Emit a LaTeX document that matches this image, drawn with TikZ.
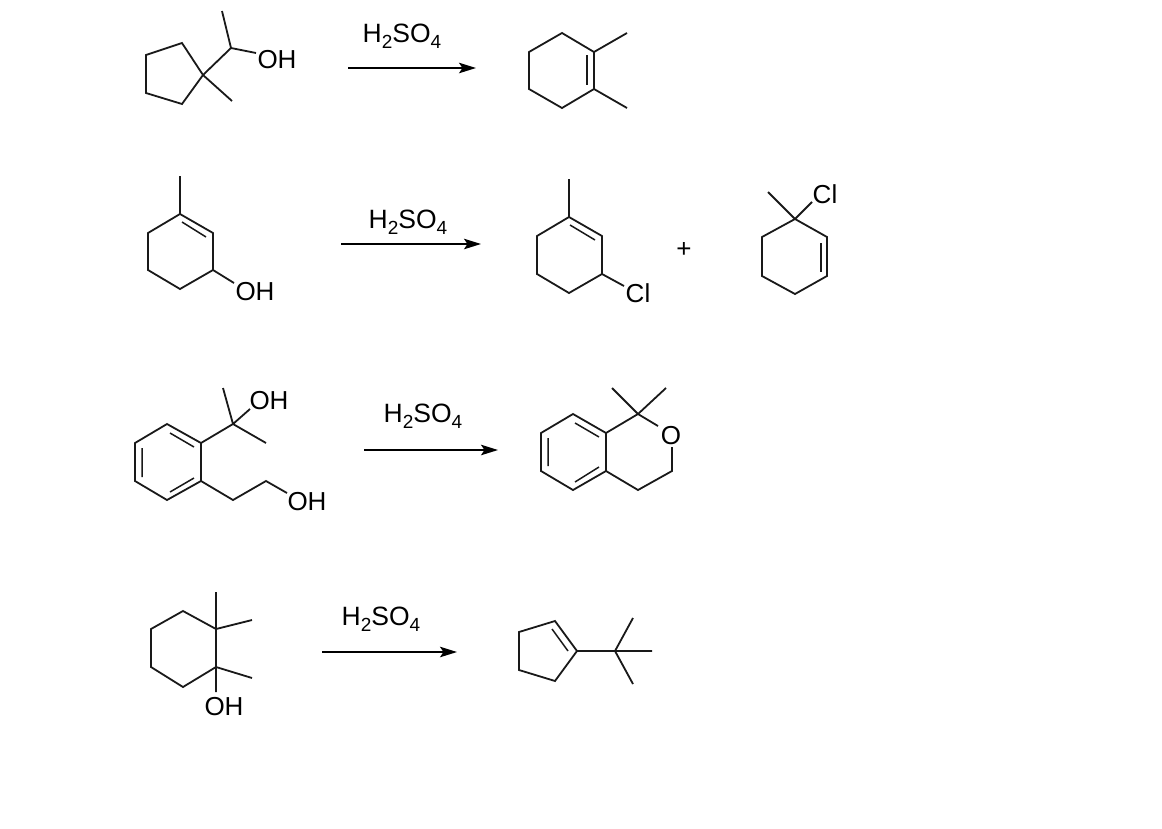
\documentclass[tikz,border=0pt]{standalone}
\usepackage{fontspec}
\setmainfont{Liberation Sans}
\usetikzlibrary{arrows.meta}
\newcommand{\lowsub}[1]{\raisebox{-0.22em}{\fontsize{19}{19}\selectfont #1}}
\newcommand{\hsofour}{H\lowsub{2}SO\lowsub{4}}
\tikzset{
  bond/.style={line width=1.8pt,line join=miter,line cap=butt,black!90},
  thinbond/.style={line width=1.5pt,black!90},
  atom/.style={inner sep=0pt,font=\fontsize{26}{26}\selectfont},
  reagent/.style={inner sep=0pt,font=\fontsize{26.5}{26.5}\selectfont},
  rxn/.style={line width=1.8pt,-{Stealth[length=17pt,width=10.5pt,inset=3.5pt]}},
}
\begin{document}
\begin{tikzpicture}[x=1pt,y=-1pt]
\useasboundingbox (0,0) rectangle (1162,828);
% --- row 1 reactant
\foreach \n/\p in {a1/{203,75},a2/{182,43},a3/{146,55},a4/{146,93},a5/{182,104},a6/{231,48},a7/{222,11},a8/{256,53},a9/{232,101}}{\coordinate (\n) at (\p);}
\node[atom] (aOH) at (277,59.5) {OH};
\draw[bond] (a1)--(a2)--(a3)--(a4)--(a5)--cycle;
\draw[bond] (a1)--(a6)--(a7) (a6)--(a8) (a1)--(a9);
% arrow 1
\coordinate (r1s) at (348,68); \coordinate (r1e) at (476,68);
\draw[rxn] (r1s)--(r1e);
\node[reagent] (r1t) at (402,36) {\hsofour};
% row 1 product
\foreach \n/\p in {b1/{562,33},b2/{594,52},b3/{594,89},b4/{562,108},b5/{529,89},b6/{529,52},b7/{627,33},b8/{627,108},b9/{587,55},b10/{587,85}}{\coordinate (\n) at (\p);}
\draw[bond] (b1)--(b2)--(b3)--(b4)--(b5)--(b6)--cycle;
\draw[bond] (b2)--(b7) (b3)--(b8);
\draw[thinbond] (b9)--(b10);
% --- row 2 reactant
\foreach \n/\p in {c1/{180,214},c2/{213,233},c3/{213,270},c4/{180,289},c5/{148,270},c6/{148,233},c7/{180,176},c8/{182,222},c9/{206,237},c10/{234,283}}{\coordinate (\n) at (\p);}
\node[atom] (cOH) at (255,291.5) {OH};
\draw[bond] (c1)--(c2)--(c3)--(c4)--(c5)--(c6)--cycle;
\draw[bond] (c1)--(c7) (c3)--(c10);
\draw[thinbond] (c8)--(c9);
% arrow 2
\coordinate (r2s) at (341,244); \coordinate (r2e) at (481,244);
\draw[rxn] (r2s)--(r2e);
\node[reagent] (r2t) at (408,222) {\hsofour};
% row 2 product A
\foreach \n/\p in {d1/{569,217},d2/{602,236},d3/{602,274},d4/{569,293},d5/{537,274},d6/{537,236},d7/{569,179},d8/{570,225},d9/{595,240},d10/{624,286}}{\coordinate (\n) at (\p);}
\node[atom] (dCl) at (638,293.5) {Cl};
\draw[bond] (d1)--(d2)--(d3)--(d4)--(d5)--(d6)--cycle;
\draw[bond] (d1)--(d7) (d3)--(d10);
\draw[thinbond] (d8)--(d9);
\node[atom] (plus) at (684,250) {\fontsize{26}{26}\selectfont +};
% row 2 product B
\foreach \n/\p in {e1/{795,219},e2/{827,237},e3/{827,276},e4/{795,294},e5/{762,276},e6/{762,237},e7/{768,192},e8/{812,202},e9/{821,243},e10/{821,272}}{\coordinate (\n) at (\p);}
\node[atom] (eCl) at (825,194.5) {Cl};
\draw[bond] (e1)--(e2)--(e3)--(e4)--(e5)--(e6)--cycle;
\draw[bond] (e1)--(e7) (e1)--(e8);
\draw[thinbond] (e9)--(e10);
% --- row 3 reactant
\foreach \n/\p in {f1/{167,424},f2/{201,443},f3/{201,481},f4/{167,500},f5/{135,481},f6/{135,443},f7/{170,433},f8/{194,447},f9/{194,478},f10/{170,492},f11/{142,448},f12/{142,477},f13/{233,424},f14/{223,388},f15/{266,443},f16/{250,409},f17/{233,500},f18/{266,481},f19/{287,493}}{\coordinate (\n) at (\p);}
\node[atom] (fOHa) at (269,400.5) {OH};
\node[atom] (fOHb) at (307,501.5) {OH};
\draw[bond] (f1)--(f2)--(f3)--(f4)--(f5)--(f6)--cycle;
\draw[thinbond] (f7)--(f8) (f9)--(f10) (f11)--(f12);
\draw[bond] (f2)--(f13)--(f14) (f13)--(f15) (f13)--(f16);
\draw[bond] (f3)--(f17)--(f18)--(f19);
% arrow 3
\coordinate (r3s) at (364,450); \coordinate (r3e) at (498,450);
\draw[rxn] (r3s)--(r3e);
\node[reagent] (r3t) at (423,416) {\hsofour};
% row 3 product
\foreach \n/\p in {g1/{573,414},g2/{606,433},g3/{606,471},g4/{573,490},g5/{541,471},g6/{541,433},g7/{575,423},g8/{599,437},g9/{599,467},g10/{575,482},g11/{548,438},g12/{548,466},g13/{638,414},g14/{612,388},g15/{666,388},g16/{658,426},g17/{672,447},g18/{672,471},g19/{638,490}}{\coordinate (\n) at (\p);}
\node[atom] (gO) at (671,436) {O};
\draw[bond] (g1)--(g2)--(g3)--(g4)--(g5)--(g6)--cycle;
\draw[thinbond] (g7)--(g8) (g9)--(g10) (g11)--(g12);
\draw[bond] (g2)--(g13)--(g14) (g13)--(g15) (g13)--(g16);
\draw[bond] (g17)--(g18)--(g19)--(g3);
% --- row 4 reactant
\foreach \n/\p in {h1/{183,611},h2/{216,629},h3/{216,667},h4/{183,687},h5/{151,667},h6/{151,629},h7/{216,592},h8/{252,620},h9/{252,678},h10/{216,692}}{\coordinate (\n) at (\p);}
\node[atom] (hOH) at (224,706.5) {OH};
\draw[bond] (h1)--(h2)--(h3)--(h4)--(h5)--(h6)--cycle;
\draw[bond] (h2)--(h7) (h2)--(h8) (h3)--(h9) (h3)--(h10);
% arrow 4
\coordinate (r4s) at (322,652); \coordinate (r4e) at (457,652);
\draw[rxn] (r4s)--(r4e);
\node[reagent] (r4t) at (381,619) {\hsofour};
% row 4 product
\foreach \n/\p in {k1/{555,621},k2/{577,651},k3/{555,681},k4/{519,670},k5/{519,632},k6/{552,629},k7/{568,651},k8/{615,651},k9/{633,618},k10/{652,651},k11/{633,684}}{\coordinate (\n) at (\p);}
\draw[bond] (k1)--(k2)--(k3)--(k4)--(k5)--cycle;
\draw[thinbond] (k6)--(k7);
\draw[bond] (k2)--(k8)--(k9) (k8)--(k10) (k8)--(k11);
\end{tikzpicture}
\end{document}
